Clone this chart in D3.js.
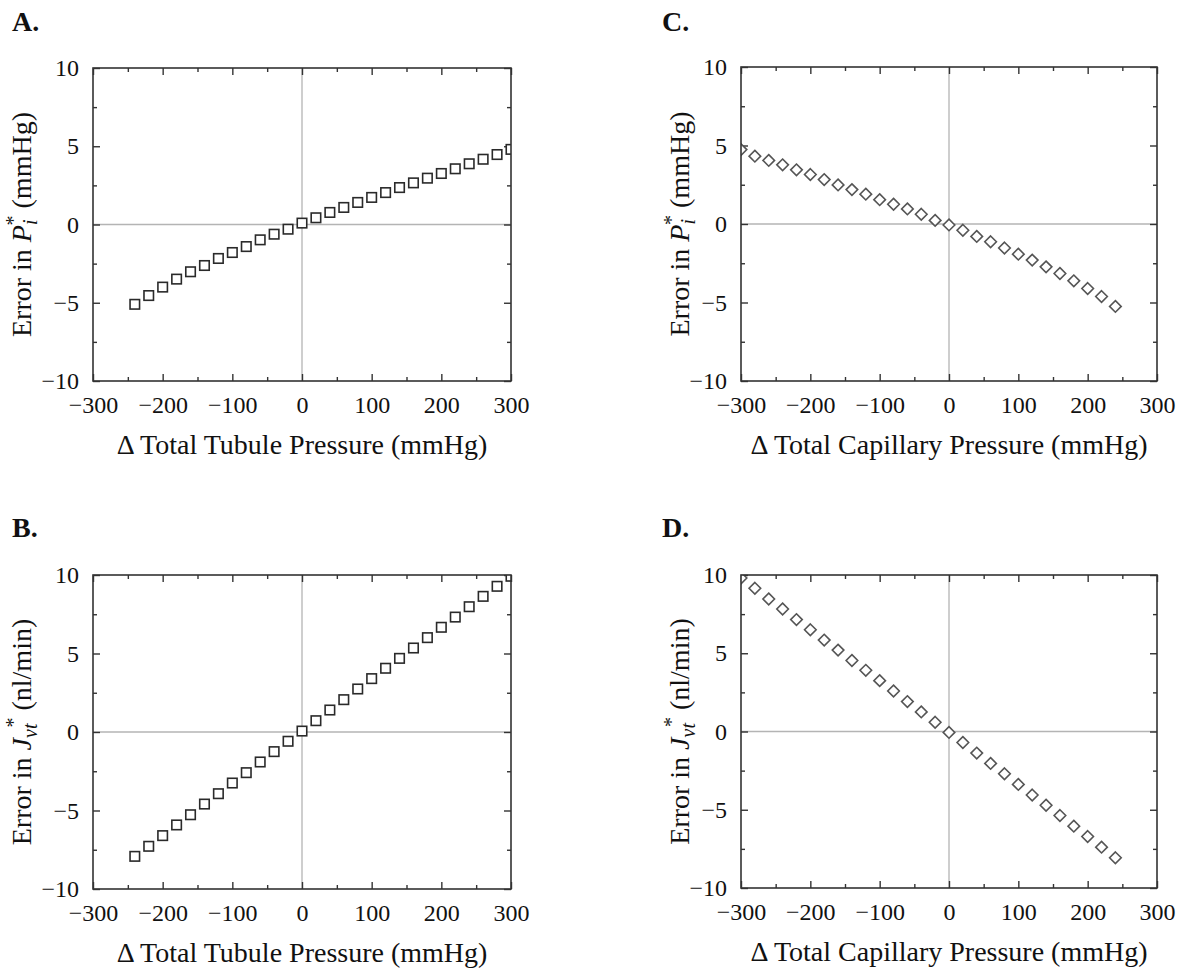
<!DOCTYPE html>
<html>
<head>
<meta charset="utf-8">
<script src="https://cdn.jsdelivr.net/npm/d3@7"></script>
<style>
  html, body { margin: 0; padding: 0; background: #fff; }
  svg { display: block; }
  text { font-family: "Liberation Serif", "Times New Roman", serif; fill: #111; }
</style>
</head>
<body>
<svg id="chart" width="1181" height="970"></svg>
<script>
// ---------------- DATA ----------------
const tubulePressure = [-240,-220,-200,-180,-160,-140,-120,-100,-80,-60,-40,-20,0,20,40,60,80,100,120,140,160,180,200,220,240,260,280,300];
const capillaryPressure = [-300,-280,-260,-240,-220,-200,-180,-160,-140,-120,-100,-80,-60,-40,-20,0,20,40,60,80,100,120,140,160,180,200,220,240];

// A: error in Pi* vs tubule pressure
const errPiTubule = [-5.10,-4.54,-4.00,-3.49,-3.02,-2.62,-2.17,-1.79,-1.41,-0.98,-0.62,-0.30,0.09,0.43,0.77,1.09,1.41,1.73,2.04,2.36,2.66,2.96,3.26,3.56,3.88,4.17,4.47,4.80];
// B: error in Jvt* vs tubule pressure
const errJvtTubule = [-7.92,-7.28,-6.60,-5.92,-5.27,-4.59,-3.93,-3.25,-2.59,-1.91,-1.25,-0.59,0.06,0.72,1.40,2.06,2.74,3.40,4.06,4.69,5.35,6.01,6.67,7.32,7.98,8.64,9.28,9.92];
// C: error in Pi* vs capillary pressure
const errPiCapillary = [4.74,4.32,4.05,3.77,3.45,3.15,2.83,2.49,2.19,1.90,1.55,1.26,0.96,0.62,0.23,-0.06,-0.40,-0.79,-1.13,-1.53,-1.92,-2.30,-2.73,-3.15,-3.62,-4.11,-4.62,-5.25];
// D: error in Jvt* vs capillary pressure
const errJvtCapillary = [9.81,9.15,8.47,7.83,7.15,6.50,5.84,5.20,4.54,3.91,3.25,2.59,1.91,1.25,0.59,-0.06,-0.70,-1.38,-2.04,-2.70,-3.38,-4.06,-4.71,-5.37,-6.05,-6.71,-7.39,-8.07];

const xDomain = [-300, 300];
const yDomain = [-10, 10];
const xMajorTicks = [-300,-200,-100,0,100,200,300];
const xMinorTicks = [-250,-150,-50,50,150,250];
const yMajorTicks = [-10,-5,0,5,10];
const yMinorTicks = [-7.5,-2.5,2.5,7.5];

const panels = [
  { id: "A.", lx: 12, ly: 31, left: 93, top: 68, w: 418, h: 313, x: tubulePressure, y: errPiTubule, marker: "square",
    xTitle: "\u0394 Total Tubule Pressure (mmHg)", yVar: "P", ySub: "i", yUnit: " (mmHg)", ytx: 31 },
  { id: "B.", lx: 12, ly: 537, left: 93, top: 575, w: 418, h: 314, x: tubulePressure, y: errJvtTubule, marker: "square",
    xTitle: "\u0394 Total Tubule Pressure (mmHg)", yVar: "J", ySub: "vt", yUnit: " (nl/min)", ytx: 31 },
  { id: "C.", lx: 662, ly: 31, left: 741, top: 67, w: 416, h: 314, x: capillaryPressure, y: errPiCapillary, marker: "diamond",
    xTitle: "\u0394 Total Capillary Pressure (mmHg)", yVar: "P", ySub: "i", yUnit: " (mmHg)", ytx: 689 },
  { id: "D.", lx: 662, ly: 537, left: 741, top: 575, w: 416, h: 313, x: capillaryPressure, y: errJvtCapillary, marker: "diamond",
    xTitle: "\u0394 Total Capillary Pressure (mmHg)", yVar: "J", ySub: "vt", yUnit: " (nl/min)", ytx: 689 }
];

const svg = d3.select("#chart");
const fmt = d3.format("");
const serif = '"Liberation Serif", "Times New Roman", serif';

panels.forEach((p, i) => {
  const x = d3.scaleLinear().domain(xDomain).range([0, p.w]);
  const y = d3.scaleLinear().domain(yDomain).range([p.h, 0]);

  // panel letter
  svg.append("text").attr("x", p.lx).attr("y", p.ly)
    .attr("font-size", 28).attr("font-weight", "bold").text(p.id);

  const g = svg.append("g").attr("transform", `translate(${p.left},${p.top})`);

  const clipId = "clip" + i;
  g.append("clipPath").attr("id", clipId).append("rect")
    .attr("x", 0).attr("y", 0).attr("width", p.w).attr("height", p.h);

  // zero lines
  g.append("line").attr("x1", 0).attr("x2", p.w).attr("y1", y(0)).attr("y2", y(0))
    .attr("stroke", "#b4b4b4").attr("stroke-width", 1.3);
  g.append("line").attr("x1", x(0)).attr("x2", x(0)).attr("y1", 0).attr("y2", p.h)
    .attr("stroke", "#b4b4b4").attr("stroke-width", 1.3);

  // axes (ticks inward on all sides)
  function styleAxis(sel) {
    sel.select(".domain").remove();
    sel.selectAll("line").attr("stroke", "#333").attr("stroke-width", 1.4);
  }
  const xb = g.append("g").attr("transform", `translate(0,${p.h})`)
    .call(d3.axisBottom(x).tickValues(xMajorTicks).tickSize(-7).tickPadding(15).tickFormat(fmt));
  styleAxis(xb);
  xb.selectAll("text").attr("font-size", 24).attr("font-family", serif).attr("fill", "#111").attr("dy", "0.71em");
  g.append("g").attr("transform", `translate(0,${p.h})`)
    .call(d3.axisBottom(x).tickValues(xMinorTicks).tickSize(-4).tickFormat("")).call(styleAxis);
  g.append("g").call(d3.axisTop(x).tickValues(xMajorTicks).tickSize(-7).tickFormat("")).call(styleAxis);
  g.append("g").call(d3.axisTop(x).tickValues(xMinorTicks).tickSize(-4).tickFormat("")).call(styleAxis);
  const yl = g.append("g")
    .call(d3.axisLeft(y).tickValues(yMajorTicks).tickSize(-7).tickPadding(14).tickFormat(fmt));
  styleAxis(yl);
  yl.selectAll("text").attr("font-size", 24).attr("font-family", serif).attr("fill", "#111");
  g.append("g").call(d3.axisLeft(y).tickValues(yMinorTicks).tickSize(-4).tickFormat("")).call(styleAxis);
  g.append("g").attr("transform", `translate(${p.w},0)`)
    .call(d3.axisRight(y).tickValues(yMajorTicks).tickSize(-7).tickFormat("")).call(styleAxis);
  g.append("g").attr("transform", `translate(${p.w},0)`)
    .call(d3.axisRight(y).tickValues(yMinorTicks).tickSize(-4).tickFormat("")).call(styleAxis);

  // markers
  const data = p.x.map((v, k) => ({ x: v, y: p.y[k] }));
  const mg = g.append("g").attr("clip-path", `url(#${clipId})`);
  if (p.marker === "square") {
    const s = 9.5;
    mg.selectAll("rect.pt").data(data).join("rect").attr("class", "pt")
      .attr("x", d => x(d.x) - s / 2).attr("y", d => y(d.y) - s / 2)
      .attr("width", s).attr("height", s)
      .attr("fill", "#fff").attr("stroke", "#2a2a2a").attr("stroke-width", 1.6);
  } else {
    const r = 5.8;
    mg.selectAll("path.pt").data(data).join("path").attr("class", "pt")
      .attr("d", d => {
        const cx = x(d.x), cy = y(d.y);
        return `M${cx},${cy - r}L${cx + r},${cy}L${cx},${cy + r}L${cx - r},${cy}Z`;
      })
      .attr("fill", "#fff").attr("stroke", "#555").attr("stroke-width", 1.6);
  }

  // frame
  g.append("rect").attr("x", 0).attr("y", 0).attr("width", p.w).attr("height", p.h)
    .attr("fill", "none").attr("stroke", "#333").attr("stroke-width", 1.6);

  // x title
  g.append("text").attr("x", p.w / 2).attr("y", p.h + 73)
    .attr("text-anchor", "middle").attr("font-size", 28).text(p.xTitle);

  // y title (rotated)
  const yt = g.append("text")
    .attr("transform", `translate(${p.ytx - p.left},${p.h / 2}) rotate(-90)`)
    .attr("text-anchor", "middle").attr("font-size", 28);
  yt.append("tspan").text("Error in ");
  yt.append("tspan").attr("font-style", "italic").text(p.yVar);
  yt.append("tspan").attr("font-style", "italic").attr("font-size", 20).attr("dy", 6).text(p.ySub);
  yt.append("tspan").attr("font-size", 20).attr("dx", p.ySub === "i" ? -6 : -4).attr("dy", -17).text("*");
  yt.append("tspan").attr("dy", 11).text(p.yUnit);
});
</script>
</body>
</html>
